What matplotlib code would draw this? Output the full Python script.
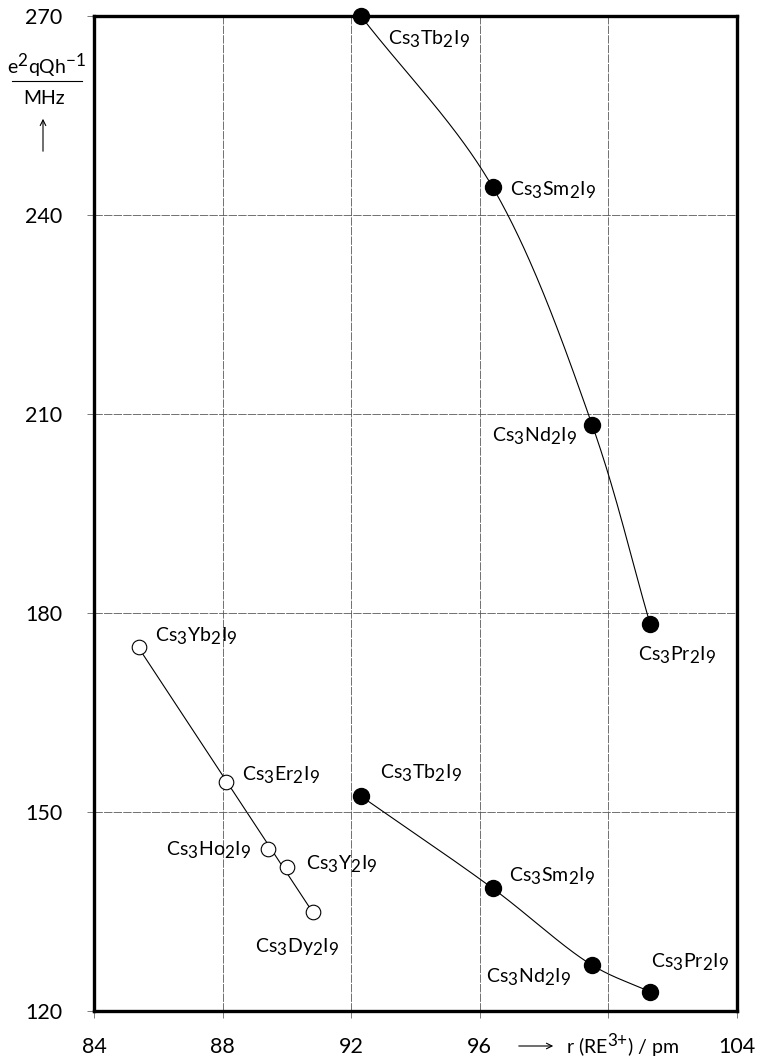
import numpy as np
import matplotlib.pyplot as plt
import matplotlib._mathtext as mtext

plt.rcParams['font.family'] = ['Lato', 'DejaVu Sans']
plt.rcParams['mathtext.fontset'] = 'custom'
plt.rcParams['mathtext.rm'] = 'Lato'
# the scanned labels use nearly full-size subscripts
mtext.SHRINK_FACTOR = 0.88

# upper filled series
up_names = ['Tb', 'Sm', 'Nd', 'Pr']
up_r = [92.3, 96.4, 99.5, 101.3]
up_q = [270.0, 244.2, 208.3, 178.3]

# lower filled series
lo_names = ['Tb', 'Sm', 'Nd', 'Pr']
lo_r = [92.3, 96.4, 99.5, 101.3]
lo_q = [152.4, 138.5, 126.9, 122.9]

# open circles
op_names = ['Yb', 'Er', 'Ho', 'Y', 'Dy']
op_r = [85.4, 88.1, 89.4, 90.0, 90.8]
op_q = [174.9, 154.5, 144.4, 141.7, 134.9]

xticks = [84, 88, 92, 96, 100, 104]
xlabels = ['84', '88', '92', '96', '', '104']
yticks = [120, 150, 180, 210, 240, 270]


def label(el):
    return 'Cs$_{\\mathregular{3}}$' + el + '$_{\\mathregular{2}}$I$_{\\mathregular{9}}$'


def catmull(x, y, sx=32.15, sy=6.633, n=60):
    # centripetal catmull-rom in pixel-ish space
    P = np.column_stack([np.array(x) * sx, np.array(y) * sy])
    P = np.vstack([2 * P[0] - P[1], P, 2 * P[-1] - P[-2]])
    out = []
    for i in range(1, len(P) - 2):
        p0, p1, p2, p3 = P[i - 1], P[i], P[i + 1], P[i + 2]
        t0 = 0
        t1 = t0 + np.linalg.norm(p1 - p0) ** 0.5
        t2 = t1 + np.linalg.norm(p2 - p1) ** 0.5
        t3 = t2 + np.linalg.norm(p3 - p2) ** 0.5
        t = np.linspace(t1, t2, n)[:, None]
        a1 = (t1 - t) / (t1 - t0) * p0 + (t - t0) / (t1 - t0) * p1
        a2 = (t2 - t) / (t2 - t1) * p1 + (t - t1) / (t2 - t1) * p2
        a3 = (t3 - t) / (t3 - t2) * p2 + (t - t2) / (t3 - t2) * p3
        b1 = (t2 - t) / (t2 - t0) * a1 + (t - t0) / (t2 - t0) * a2
        b2 = (t3 - t) / (t3 - t1) * a2 + (t - t1) / (t3 - t1) * a3
        c = (t2 - t) / (t2 - t1) * b1 + (t - t1) / (t2 - t1) * b2
        out.append(c)
    out = np.vstack(out)
    return out[:, 0] / sx, out[:, 1] / sy


fig = plt.figure(figsize=(7.68, 10.59), dpi=100)
ax = fig.add_axes([0.1224, 0.0453, 0.8372, 0.9396])

ax.set_xlim(84, 104)
ax.set_ylim(120, 270)
ax.set_xticks(xticks)
ax.set_xticklabels(xlabels)
ax.set_yticks(yticks)
ax.tick_params(labelsize=15.5, length=5, width=0.6, color='0.4')
ax.tick_params(axis='x', pad=14)
ax.tick_params(axis='y', pad=18)
ax.grid(True, color='0.35', lw=0.6, ls=(0, (10, 1.5)))
for s in ax.spines.values():
    s.set_linewidth(2.4)

# curves
cx, cy = catmull(up_r, up_q)
ax.plot(cx, cy, color='k', lw=0.8, zorder=3)
cx, cy = catmull(lo_r, lo_q)
ax.plot(cx, cy, color='k', lw=0.8, zorder=3)
k, b = np.polyfit(op_r, op_q, 1)
xs = np.array([op_r[0], op_r[-1]])
ax.plot(xs, k * xs + b, color='k', lw=0.8, zorder=3)

ax.plot(up_r, up_q, 'o', color='k', ms=11.5, zorder=5, clip_on=False)
ax.plot(lo_r, lo_q, 'o', color='k', ms=11.5, zorder=5, clip_on=False)
ax.plot(op_r, op_q, 'o', mfc='white', mec='k', mew=0.8, ms=10.5, zorder=5)

fs = 14
up_off = [(27, -23, 'left'), (17, -3, 'left'), (-15, -11, 'right'), (-12, -31, 'left')]
for nm, r, q, (dx, dy, ha) in zip(up_names, up_r, up_q, up_off):
    ax.annotate(label(nm), (r, q), xytext=(dx, dy), textcoords='offset pixels',
                ha=ha, va='center', fontsize=fs, annotation_clip=False)

lo_off = [(19, 23, 'left'), (16, 12, 'left'), (-21, -12, 'right'), (1, 29, 'left')]
for nm, r, q, (dx, dy, ha) in zip(lo_names, lo_r, lo_q, lo_off):
    ax.annotate(label(nm), (r, q), xytext=(dx, dy), textcoords='offset pixels',
                ha=ha, va='center', fontsize=fs)

op_off = [(16, 10, 'left'), (16, 7, 'left'), (-16, -1, 'right'), (19, 3, 'left'),
          (-15, -35, 'center')]
for nm, r, q, (dx, dy, ha) in zip(op_names, op_r, op_q, op_off):
    ax.annotate(label(nm), (r, q), xytext=(dx, dy), textcoords='offset pixels',
                ha=ha, va='center', fontsize=fs)

# y axis label as fraction with arrow
fig.text(47 / 768, 1 - 66 / 1059, 'e$^{\\mathregular{2}}$qQh$^{\\mathregular{-1}}$',
         ha='center', va='center', fontsize=14)
fig.add_artist(plt.Line2D([12 / 768, 82 / 768], [1 - 81 / 1059, 1 - 81 / 1059],
                          color='k', lw=0.8))
fig.text(44 / 768, 1 - 98 / 1059, 'MHz', ha='center', va='center', fontsize=14)
ax.annotate('', xy=(43 / 768, 1 - 116 / 1059), xytext=(43 / 768, 1 - 154 / 1059),
            xycoords='figure fraction', textcoords='figure fraction',
            arrowprops=dict(arrowstyle='->', lw=0.8, color='k'))

# x axis label
ax.annotate('', xy=(556 / 768, 1 - 1046 / 1059), xytext=(516 / 768, 1 - 1046 / 1059),
            xycoords='figure fraction', textcoords='figure fraction',
            arrowprops=dict(arrowstyle='->', lw=0.8, color='k'))
fig.text(566 / 768, 1 - 1046 / 1059, 'r (RE$^{\\mathregular{3{+}}}$) / pm',
         ha='left', va='center', fontsize=14)

fig.savefig('out.png', dpi=100)
